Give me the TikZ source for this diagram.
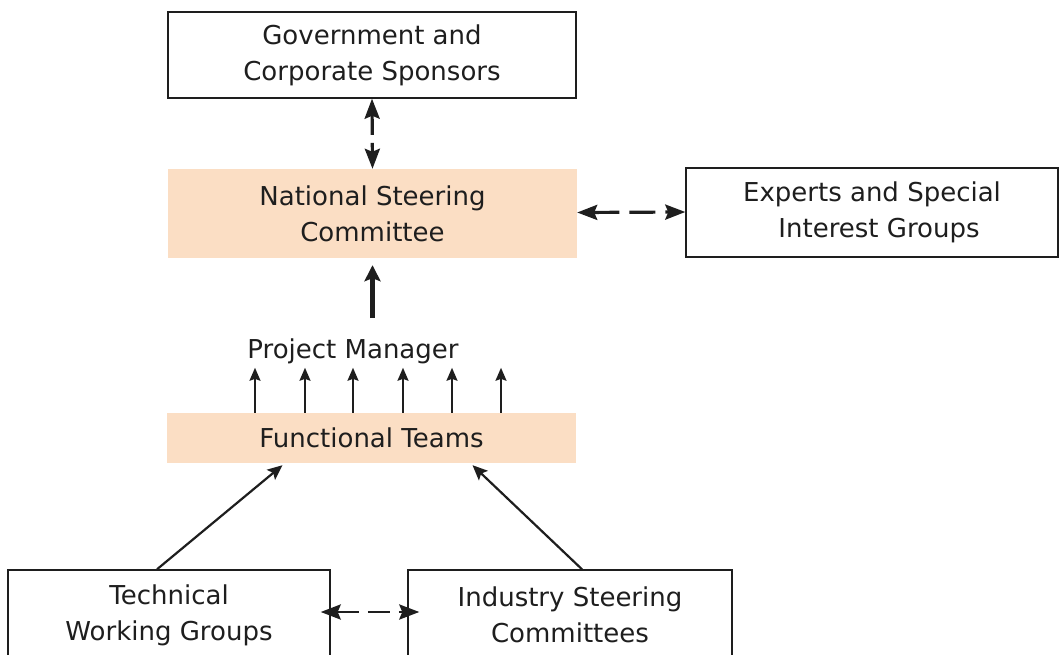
\documentclass[tikz,border=0pt]{standalone}
\usepackage{fontspec}
\setmainfont{DejaVu Sans}
\usetikzlibrary{arrows.meta}
\definecolor{peach}{RGB}{251,222,196}
\definecolor{ink}{RGB}{30,30,30}
\begin{document}
\begin{tikzpicture}[x=1pt,y=-1pt,
  every node/.style={font=\fontsize{26}{36}\selectfont, text=ink, align=center, inner sep=0pt},
  whitebox/.style={draw=ink, line width=1.4pt, fill=white, minimum width=#1},
  peachbox/.style={fill=peach, minimum width=#1},
  conn/.style={draw=ink, line width=2.2pt, -{Stealth[length=15pt,width=13pt,inset=3pt]}},
  bigarrow/.style={draw=ink, line width=4.5pt, -{Stealth[length=16pt,width=16pt,inset=3pt]}},
  smallarrow/.style={draw=ink, line width=2pt, -{Stealth[length=13pt,width=11pt,inset=2pt]}},
  dasharrow/.style={draw=ink, line width=3.2pt, {Stealth[length=20pt,width=15pt,inset=3pt]}-{Stealth[length=20pt,width=15pt,inset=3pt]}}
]
\useasboundingbox (0,0) rectangle (1060,655);

\node[whitebox=408pt, minimum height=86pt] (gov) at (372,55) {Government and\\Corporate Sponsors};
\node[peachbox=409pt, minimum height=89pt] (nsc) at (372.5,213.5) {National Steering\\Committee};
\node[whitebox=372pt, minimum height=89pt] (exp) at (872,212.5) {Experts and Special\\\hspace{14pt}Interest Groups};
\node (pm) at (353,351) {Project Manager};
\node[peachbox=409pt, minimum height=50pt] (ft) at (371.5,438) {Functional Teams};
\node[whitebox=322pt, minimum height=90pt] (tech) at (169,615) {Technical\\Working Groups};
\node[whitebox=324pt, minimum height=90pt] (ind) at (570,615) {Industry Steering\\Committees};

\draw[dasharrow, dash pattern=on 20pt off 8pt] (gov.south) -- (nsc.north);
\draw[dasharrow, dash pattern=on 26pt off 10pt] ([yshift=1pt]nsc.east) -- ([yshift=0.5pt]exp.west);
\draw[bigarrow, shorten <=20pt, shorten >=7pt] (nsc.south |- pm.north) -- (nsc.south);
\foreach \x in {255,305,353,403,452,501}
  \draw[smallarrow, shorten >=4pt] (ft.north -| \x,0) -- (pm.south -| \x,0);
\draw[conn] ([xshift=-12pt]tech.north) -- ([xshift=-89pt,yshift=-2pt]ft.south);
\draw[conn] ([xshift=12pt]ind.north) -- ([xshift=101pt,yshift=-2pt]ft.south);
\draw[dasharrow, line width=2.8pt, dash pattern=on 22pt off 9pt] ([xshift=-10pt,yshift=3pt]tech.east) -- ([xshift=12pt,yshift=3pt]ind.west);
\end{tikzpicture}
\end{document}
